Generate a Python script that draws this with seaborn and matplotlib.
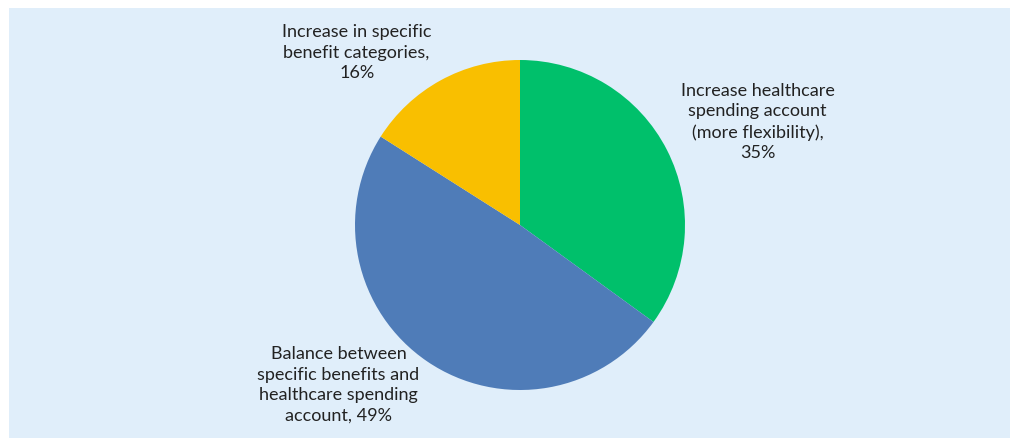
"""
Pie chart of preferred benefit changes.
"""

import matplotlib
matplotlib.use("Agg")
import matplotlib.pyplot as plt
import seaborn as sns

categories = [
    "Increase healthcare\nspending account\n(more flexibility)",
    "Balance between\nspecific benefits and\nhealthcare spending\naccount",
    "Increase in specific\nbenefit categories",
]
shares = [35, 49, 16]
slice_colors = ["#00c06b", "#4f7cb8", "#f9bf00"]
# what goes between the name and the percentage
separators = [",\n", ", ", ",\n"]

sns.set_theme(style="white")
plt.rcParams["font.family"] = ["Lato", "DejaVu Sans"]

fig = plt.figure(figsize=(10.1, 4.38), dpi=100)
fig.patch.set_facecolor("white")
# light blue panel behind the chart
fig.patches.append(plt.Rectangle((9 / 1010, 0), 1, (438 - 8) / 438, transform=fig.transFigure,
                                 facecolor="#e0eefa", edgecolor="none", zorder=-10))

cx, cy, r = 520, 225, 165
ax = fig.add_axes([(cx - r) / 1010, (438 - cy - r) / 438, 2 * r / 1010, 2 * r / 438])
ax.pie(shares, colors=slice_colors, startangle=90, counterclock=False,
       wedgeprops=dict(linewidth=0))
ax.set_xlim(-1, 1)
ax.set_ylim(-1, 1)
ax.set_facecolor("none")

# label positions in pie-radius units
label_pos = [(1.44, 0.625), (-1.10, -0.97), (-0.99, 1.045)]
for lab, val, sep, (x, y) in zip(categories, shares, separators, label_pos):
    ax.text(x, y, f"{lab}{sep}{val}%", ha="center", va="center", fontsize=13,
            color="#222222", linespacing=1.35, clip_on=False)

fig.savefig("out.png", dpi=100)
